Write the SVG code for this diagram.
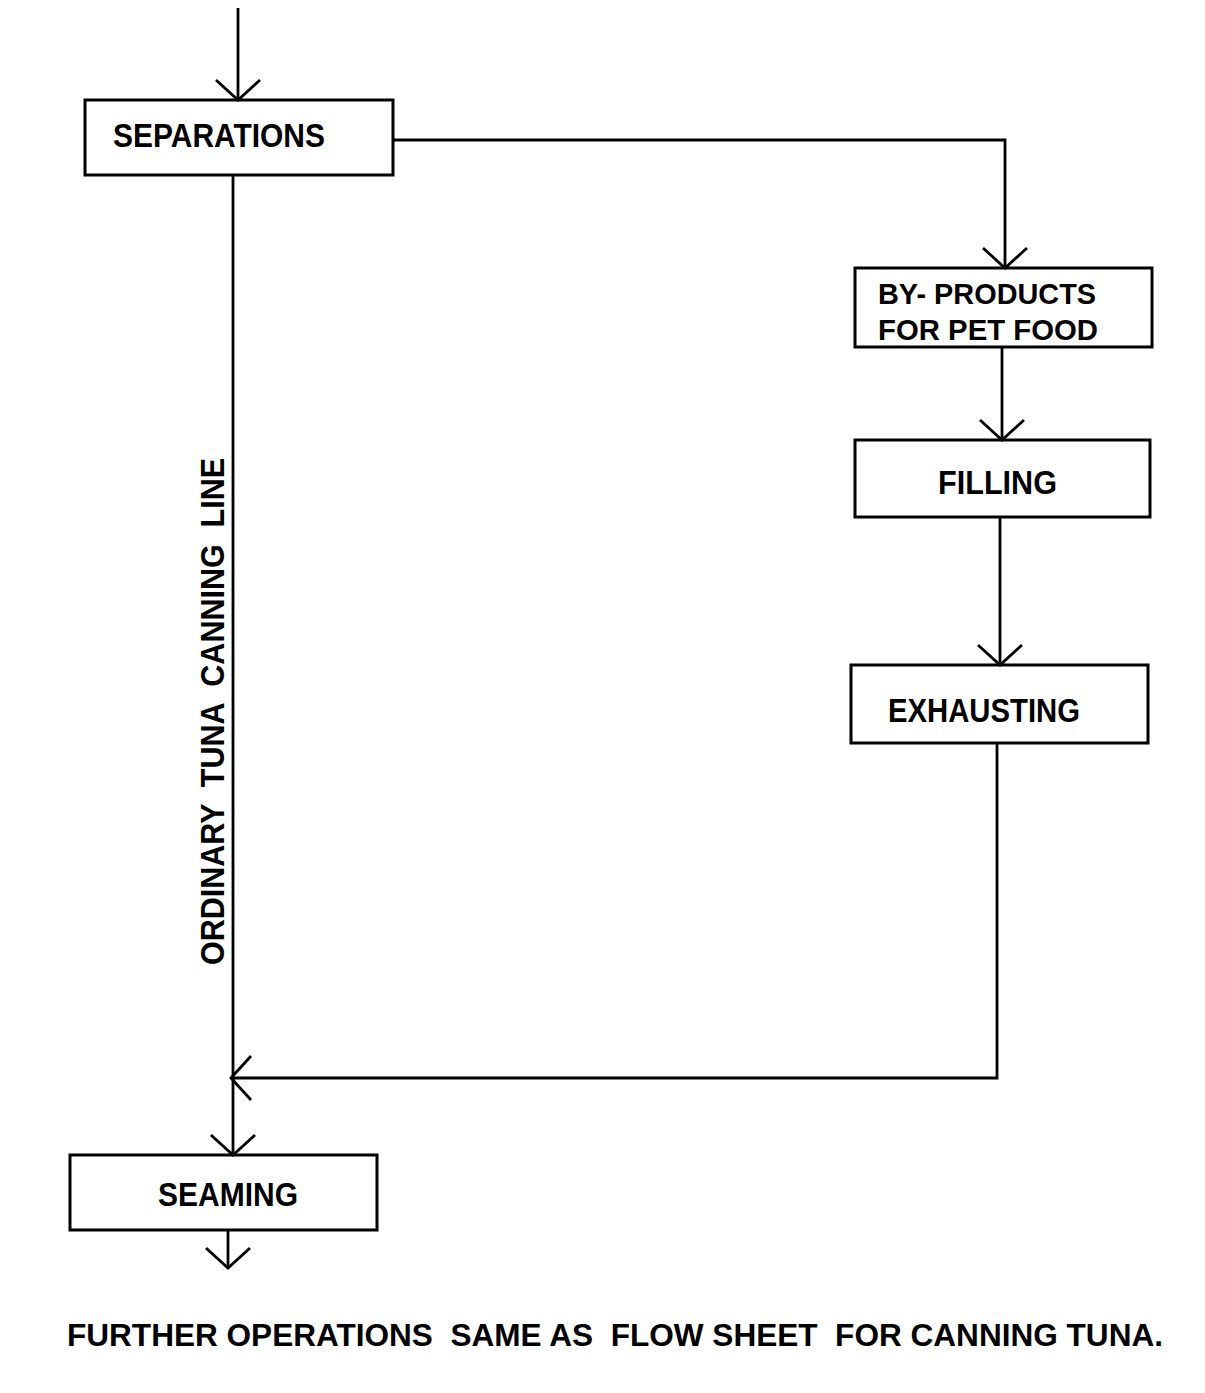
<svg xmlns="http://www.w3.org/2000/svg" width="1205" height="1393" viewBox="0 0 1205 1393">
<style>
.box{fill:none;stroke:#000;stroke-width:3}
.ln{fill:none;stroke:#000;stroke-width:2.8}
.t{font-family:"Liberation Sans",Arial,sans-serif;fill:#000;font-weight:bold;white-space:pre}
</style>
<defs>
<marker id="ah" markerUnits="userSpaceOnUse" markerWidth="50" markerHeight="50" refX="0" refY="0" viewBox="-25 -25 50 50" orient="auto" overflow="visible">
<path d="M-20,-22 L0,0 L-20,22" fill="none" stroke="#000" stroke-width="2.8"/>
</marker>
</defs>
<rect width="1205" height="1393" fill="#fff"/>
<g id="connectors">
<path class="ln" d="M238,8 V100" marker-end="url(#ah)"/>
<path class="ln" d="M393,140 H1005 V268" marker-end="url(#ah)"/>
<path class="ln" d="M1002,347 V440" marker-end="url(#ah)"/>
<path class="ln" d="M1000,517 V665" marker-end="url(#ah)"/>
<path class="ln" d="M997,743 V1078 H231" marker-end="url(#ah)"/>
<path class="ln" d="M233,175 V1155" marker-end="url(#ah)"/>
<path class="ln" d="M228,1230 V1268" marker-end="url(#ah)"/>
</g>
<g id="separations">
<rect class="box" x="85" y="100" width="308" height="75"/>
<text class="t" x="113" y="147" font-size="34" textLength="212" lengthAdjust="spacingAndGlyphs">SEPARATIONS</text>
</g>
<g id="byproducts">
<rect class="box" x="855" y="268" width="297" height="79"/>
<text class="t" x="878" y="304" font-size="30" textLength="218" lengthAdjust="spacingAndGlyphs">BY- PRODUCTS</text>
<text class="t" x="878" y="340" font-size="30" textLength="220" lengthAdjust="spacingAndGlyphs">FOR PET FOOD</text>
</g>
<g id="filling">
<rect class="box" x="855" y="440" width="295" height="77"/>
<text class="t" x="938" y="494" font-size="34" textLength="119" lengthAdjust="spacingAndGlyphs">FILLING</text>
</g>
<g id="exhausting">
<rect class="box" x="851" y="665" width="297" height="78"/>
<text class="t" x="888" y="722" font-size="34" textLength="192" lengthAdjust="spacingAndGlyphs">EXHAUSTING</text>
</g>
<g id="seaming">
<rect class="box" x="70" y="1155" width="307" height="75"/>
<text class="t" x="158" y="1206" font-size="34" textLength="140" lengthAdjust="spacingAndGlyphs">SEAMING</text>
</g>
<g id="line-label">
<text class="t" xml:space="preserve" transform="translate(224,965) rotate(-90)" font-size="34" textLength="507" lengthAdjust="spacingAndGlyphs">ORDINARY  TUNA  CANNING  LINE</text>
</g>
<g id="footer">
<text class="t" xml:space="preserve" x="67" y="1346" font-size="32" textLength="1096" lengthAdjust="spacingAndGlyphs">FURTHER OPERATIONS  SAME AS  FLOW SHEET  FOR CANNING TUNA.</text>
</g>
</svg>
